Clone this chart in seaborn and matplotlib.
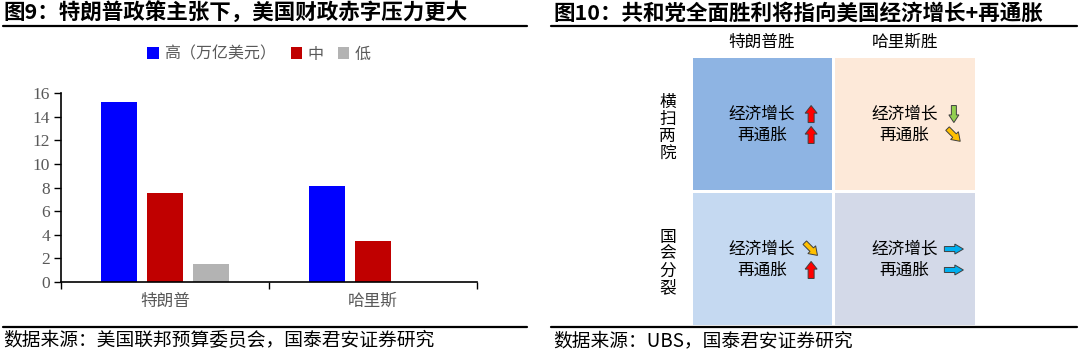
import numpy as np
import pandas as pd
import matplotlib
matplotlib.use("Agg")
import matplotlib.pyplot as plt
import seaborn as sns
from matplotlib.colors import ListedColormap
from matplotlib.patches import Polygon, Patch
from matplotlib.lines import Line2D
from matplotlib.transforms import IdentityTransform

# ---------------- data ----------------
title_left = "图9：特朗普政策主张下，美国财政赤字压力更大"
title_right = "图10：共和党全面胜利将指向美国经济增长+再通胀"
source_left = "数据来源：美国联邦预算委员会，国泰君安证券研究"
source_right = "数据来源：UBS，国泰君安证券研究"

candidates = ["特朗普", "哈里斯"]
levels = ["高（万亿美元）", "中", "低"]
high_vals = [15.2, 8.1]
mid_vals = [7.5, 3.5]
low_vals = [1.5, None]
y_ticks = [0, 2, 4, 6, 8, 10, 12, 14, 16]

col_labels = ["特朗普胜", "哈里斯胜"]
row_labels = ["横扫两院", "国会分裂"]
cell_color_idx = [[0, 1], [2, 3]]
cell_colors = ["#8EB4E3", "#FDE9D9", "#C5D9F1", "#D3D9E8"]
line_names = ["经济增长", "再通胀"]
growth_dir = [["up", "down"], ["downright", "right"]]
inflation_dir = [["up", "downright"], ["up", "right"]]

# ---------------- figure ----------------
W, H = 1080, 354
sns.set_theme(style="white")
plt.rcParams['font.family'] = ['Noto Sans CJK SC', 'DejaVu Sans']
fig = plt.figure(figsize=(W / 100, H / 100), dpi=100)
fig.patch.set_facecolor("white")

def fx(x):
    return x / W

def fy(y):
    return 1 - y / H

GRAY = "#595959"

# titles and rules
fig.text(fx(3), fy(13), title_left, fontsize=15.5, fontweight="bold", va="center", ha="left", color="black")
fig.text(fx(553), fy(13), title_right, fontsize=15.5, fontweight="bold", va="center", ha="left", color="black")
for x0, x1 in [(3, 527), (551, 1077)]:
    fig.add_artist(Line2D([fx(x0), fx(x1)], [fy(26), fy(26)], color="black", lw=1.6, transform=fig.transFigure))
    fig.add_artist(Line2D([fx(x0), fx(x1)], [fy(327), fy(327)], color="black", lw=1.6, transform=fig.transFigure))
fig.text(fx(3), fy(341), source_left, fontsize=13.5, va="center", ha="left", color="black")
fig.text(fx(553), fy(341), source_right, fontsize=13.5, va="center", ha="left", color="black")

# ---------------- left: bar chart ----------------
rows = []
for c, h, m, l in zip(candidates, high_vals, mid_vals, low_vals):
    for lev, v in zip(levels, [h, m, l]):
        if v is not None:
            rows.append({"候选人": c, "情景": lev, "值": v})
df = pd.DataFrame(rows)

bar_colors = ["#0000FF", "#C00000", "#B3B3B3"]
ax = fig.add_axes([fx(61), fy(282), fx(477) - fx(61), fy(93) - fy(282)])
sns.barplot(data=df, x="候选人", y="值", hue="情景", hue_order=levels, order=candidates,
            palette=bar_colors, saturation=1, width=0.66, gap=0.22, ax=ax, legend=False,
            edgecolor="none", linewidth=0)
ax.set_xlim(-0.5, 1.5)
ax.set_ylim(0, 16)
ax.set_yticks(y_ticks)
ax.set_yticklabels([str(t) for t in y_ticks], fontsize=12.5, color=GRAY,
                   family=["Liberation Serif", "DejaVu Serif"])
ax.set_xticks([-0.5, 0.5, 1.5])
ax.set_xticklabels([])
ax.set_xticks([0, 1], minor=True)
ax.set_xticklabels(candidates, minor=True, fontsize=12, color=GRAY)
ax.tick_params(axis="x", which="minor", length=0, pad=8)
ax.tick_params(axis="x", which="major", direction="out", length=5, width=1, color="black", bottom=True)
ax.tick_params(axis="y", direction="out", length=5, width=1, color="black", left=True, pad=3)
ax.set_xlabel("")
ax.set_ylabel("")
for s in ["top", "right"]:
    ax.spines[s].set_visible(False)
for s in ["left", "bottom"]:
    ax.spines[s].set_color("black")
    ax.spines[s].set_linewidth(1.2)
ax.set_facecolor("white")

handles = [Patch(facecolor=c, edgecolor="none") for c in bar_colors]
fig.legend(handles, levels, loc="center", bbox_to_anchor=(fx(259), fy(54)), ncol=3,
           frameon=False, fontsize=11.5, labelcolor=GRAY, handlelength=0.7, handleheight=0.7,
           handletextpad=0.35, columnspacing=0.9)

# ---------------- right: matrix ----------------
ax2 = fig.add_axes([fx(690.5), fy(326), fx(976) - fx(690.5), fy(56) - fy(326)])
mat = np.array(cell_color_idx)
sns.heatmap(mat, cmap=ListedColormap(cell_colors), vmin=-0.5, vmax=3.5, cbar=False,
            linewidths=2, linecolor="white", xticklabels=False, yticklabels=False, ax=ax2)
ax2.set_xlabel("")
ax2.set_ylabel("")

for j, lab in enumerate(col_labels):
    ax2.text(j + 0.5, -0.04, lab, ha="center", va="bottom", fontsize=12, color="black",
             transform=ax2.transData)
for i, lab in enumerate(row_labels):
    ax2.text(-0.16, i + 0.53, "\n".join(lab), ha="center", va="center", fontsize=12,
             color="black", linespacing=1.0)

line_y = [0.43, 0.585]
for i in range(2):
    for j in range(2):
        for k, name in enumerate(line_names):
            ax2.text(j + 0.5, i + line_y[k], name, ha="center", va="center", fontsize=12, color="black")

arrow_style = {
    "up": ((0, 1), "#FF0000", 17, 12, 6),
    "down": ((0, -1), "#92D050", 17, 10, 5),
    "right": ((1, 0), "#00B0F0", 19, 10, 5),
    "downright": ((1 / np.sqrt(2), -1 / np.sqrt(2)), "#FFC000", 18, 11, 5),
}

def draw_arrow(cx, cy, kind):
    (ux, uy), color, L, hw, sw = arrow_style[kind]
    u = np.array([ux, uy], dtype=float)
    v = np.array([-u[1], u[0]])
    c = np.array([cx, cy])
    hl = L * 0.45
    pts = [c - u * L / 2 + v * sw / 2,
           c + u * (L / 2 - hl) + v * sw / 2,
           c + u * (L / 2 - hl) + v * hw / 2,
           c + u * L / 2,
           c + u * (L / 2 - hl) - v * hw / 2,
           c + u * (L / 2 - hl) - v * sw / 2,
           c - u * L / 2 - v * sw / 2]
    poly = Polygon(pts, closed=True, facecolor=color, edgecolor="#404040", lw=0.7,
                   transform=IdentityTransform())
    fig.add_artist(poly)

for i in range(2):
    for j in range(2):
        for k, dirs in enumerate([growth_dir, inflation_dir]):
            px, py = ax2.transData.transform((j + 0.845, i + line_y[k]))
            draw_arrow(px, py, dirs[i][j])

fig.savefig("out.png", dpi=100, facecolor="white")
